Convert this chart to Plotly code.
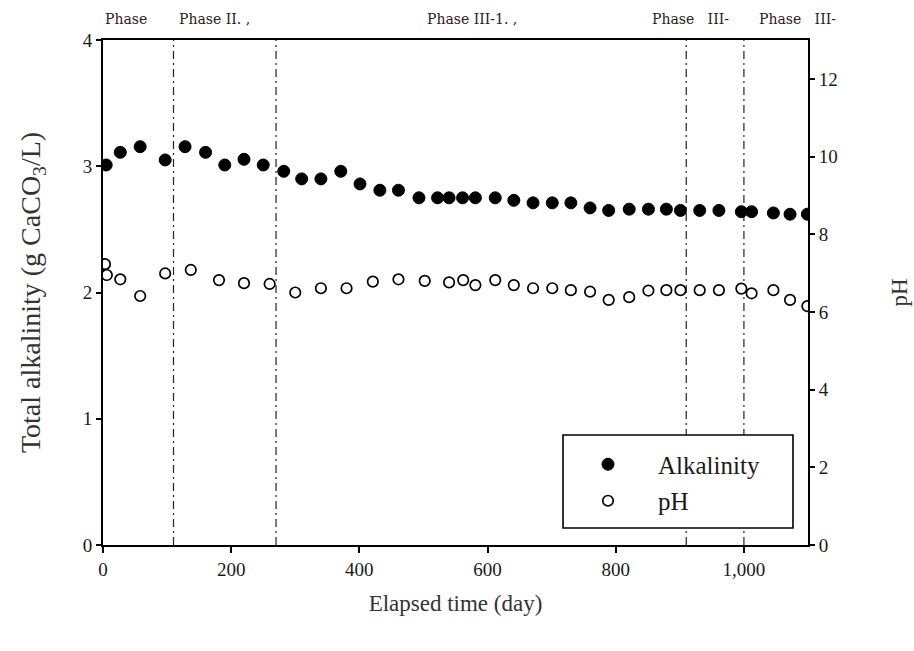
import plotly.graph_objects as go

# Elapsed days and total alkalinity (g CaCO3/L)
alk_days = [5, 27, 58, 97, 128, 160, 190, 220, 250, 282, 310, 340, 371, 401, 432, 461,
            493, 522, 540, 561, 581, 612, 641, 671, 701, 730, 760, 789, 821, 851, 879,
            901, 931, 961, 996, 1012, 1046, 1072, 1099]
alkalinity = [3.01, 3.11, 3.155, 3.05, 3.155, 3.11, 3.01, 3.055, 3.01, 2.96, 2.90, 2.90,
              2.96, 2.86, 2.81, 2.81, 2.75, 2.75, 2.75, 2.75, 2.75, 2.75, 2.73, 2.71,
              2.71, 2.71, 2.67, 2.65, 2.66, 2.66, 2.66, 2.65, 2.65, 2.65, 2.64, 2.64,
              2.63, 2.62, 2.62]

# Elapsed days and pH
ph_days = [3, 6, 27, 58, 97, 137, 181, 220, 260, 300, 340, 380, 421, 461, 502, 540, 562,
           581, 612, 641, 671, 701, 730, 760, 789, 821, 851, 879, 901, 931, 961, 996,
           1012, 1046, 1072, 1099]
ph = [7.23, 6.95, 6.84, 6.41, 6.99, 7.08, 6.82, 6.74, 6.72, 6.50, 6.61, 6.61, 6.78, 6.84,
      6.80, 6.76, 6.82, 6.69, 6.82, 6.69, 6.61, 6.61, 6.56, 6.52, 6.31, 6.38, 6.55, 6.56,
      6.56, 6.56, 6.56, 6.60, 6.48, 6.56, 6.31, 6.15]

# Phase boundaries (day) and phase labels placed along the top
phase_bounds = [110, 270, 910, 1000]
phase_label_days = [0, 115, 502, 853, 1020]
phase_labels = ["Phase", "Phase II. ,", "Phase III-1. ,",
                "Phase&nbsp;&nbsp;&nbsp;III-", "Phase&nbsp;&nbsp;&nbsp;III-"]

x_ticks = [0, 200, 400, 600, 800, 1000]
x_ticktext = ["0", "200", "400", "600", "800", "1,000"]

SERIF = "Liberation Serif, Times New Roman, serif"
INK = "#1a1a1a"
TITLE_INK = "#333333"

fig = go.Figure()

fig.add_trace(go.Scatter(
    x=alk_days, y=alkalinity, mode="markers", name="Alkalinity",
    legendgroup="a",
    marker=dict(symbol="circle", size=12, color="black", line=dict(color="black", width=1)),
))
fig.add_trace(go.Scatter(
    x=ph_days, y=ph, mode="markers", name="pH", yaxis="y2",
    legendgroup="b",
    marker=dict(symbol="circle", size=10.5, color="white", line=dict(color="black", width=1.7)),
))

shapes = []
for d in phase_bounds:
    shapes.append(dict(type="line", xref="x", yref="paper", x0=d, x1=d, y0=0, y1=1,
                       line=dict(color="#222", width=1.2, dash="8px,4px,2px,4px"),
                       layer="below"))
# legend frame
shapes.append(dict(type="rect", xref="paper", yref="paper",
                   x0=0.6525, x1=0.9787, y0=0.0337, y1=0.2178,
                   fillcolor="white", line=dict(color="black", width=1.6), layer="below"))

annotations = []
for d, t in zip(phase_label_days, phase_labels):
    annotations.append(dict(x=d, y=1.0, xref="x", yref="paper", text=t, showarrow=False,
                            xanchor="left", yanchor="bottom", yshift=11,
                            font=dict(family="DejaVu Serif, serif", size=14, color="#2a2020")))

fig.update_layout(
    width=914, height=651,
    margin=dict(l=103, r=106, t=40, b=106, autoexpand=False),
    paper_bgcolor="white", plot_bgcolor="white",
    font=dict(family=SERIF, color=INK),
    showlegend=True,
    legend=dict(x=0.6454, y=0.205, xanchor="left", yanchor="top",
                bgcolor="rgba(0,0,0,0)", borderwidth=0,
                font=dict(family=SERIF, size=25, color=INK),
                tracegroupgap=1, itemwidth=90, traceorder="grouped"),
    xaxis=dict(range=[0, 1100], tickvals=x_ticks, ticktext=x_ticktext, automargin=False,
               showline=True, linecolor="black", linewidth=1.8, mirror=True,
               ticks="outside", ticklen=6, tickwidth=1.5, tickcolor="black",
               showgrid=False, zeroline=False,
               tickfont=dict(family=SERIF, size=19, color=INK),
               title=dict(text="Elapsed time (day)", standoff=16,
                          font=dict(family=SERIF, size=23, color=TITLE_INK))),
    yaxis=dict(range=[0, 4], dtick=1, automargin=False,
               showline=True, linecolor="black", linewidth=1.8,
               ticks="outside", ticklen=5, tickwidth=1.5, tickcolor="black",
               showgrid=False, zeroline=False,
               tickfont=dict(family=SERIF, size=19, color=INK),
               title=dict(text="Total alkalinity (g CaCO<sub>3</sub>/L)", standoff=34,
                          font=dict(family=SERIF, size=28, color=TITLE_INK))),
    yaxis2=dict(range=[0, 13], tickvals=[0, 2, 4, 6, 8, 10, 12], overlaying="y", side="right",
                automargin=False,
                showline=True, linecolor="black", linewidth=1.8,
                ticks="outside", ticklen=5, tickwidth=1.5, tickcolor="black",
                showgrid=False, zeroline=False,
                tickfont=dict(family=SERIF, size=19, color=INK),
                title=dict(text="pH", standoff=54,
                           font=dict(family=SERIF, size=23, color=TITLE_INK))),
    shapes=shapes,
    annotations=annotations,
)

fig.write_html("out.html")
